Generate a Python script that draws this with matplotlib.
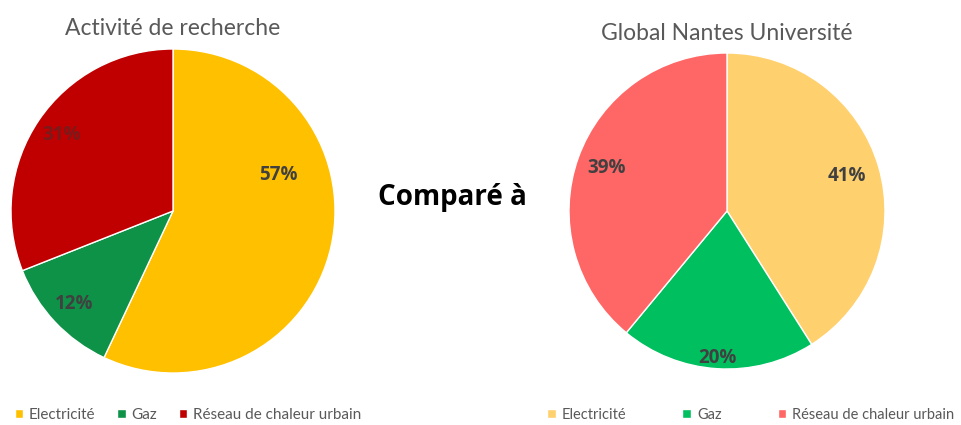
import matplotlib.pyplot as plt

# données
categories = ['Electricité', 'Gaz', 'Réseau de chaleur urbain']
recherche = [57, 12, 31]
global_nu = [41, 20, 39]

couleurs_recherche = ['#FFC000', '#0E9247', '#C00000']
couleurs_global = ['#FFD06E', '#00BF5F', '#FF6666']

W, H = 962, 425
fig = plt.figure(figsize=(W / 100, H / 100), dpi=100)


def axes_px(cx, cy, r):
    return fig.add_axes([(cx - r) / W, (H - cy - r) / H, 2 * r / W, 2 * r / H])


def pie(ax, vals, cols, dists):
    wedges, _, autotexts = ax.pie(
        vals, colors=cols, startangle=90, counterclock=False,
        autopct='%1.0f%%', pctdistance=0.8,
        wedgeprops=dict(edgecolor='white', linewidth=1),
        textprops=dict(color='#404040', fontsize=13.5, fontweight='bold',
                       family='Open Sans'))
    for t, d in zip(autotexts, dists):
        x, y = t.get_position()
        k = d / 0.8
        t.set_position((x * k, y * k))
    ax.set_xlim(-1, 1)
    ax.set_ylim(-1, 1)
    return wedges, autotexts


ax1 = axes_px(173, 211, 162)
w1, t1 = pie(ax1, recherche, couleurs_recherche, [0.68, 0.84, 0.83])
# Excel remonte l'étiquette 57%
t1[0].set_position((0.65, 0.22))
t1[2].set_color('#7a1a1a')
ax1.set_title('Activité de recherche', fontsize=16.5, color='#595959',
              family='Lato', pad=10)

ax2 = axes_px(727, 211, 158)
w2, t2 = pie(ax2, global_nu, couleurs_global, [0.79, 0.93, 0.81])
ax2.set_title('Global Nantes Université', fontsize=16.5, color='#595959',
              family='Lato', pad=9)

fig.text(452 / W, 1 - 198 / H, 'Comparé à', ha='center', va='center',
         fontsize=20, fontweight='bold', family='Open Sans', color='black')

fig.legend(w1, categories, loc='center left', bbox_to_anchor=(15 / W, 1 - 415 / H),
           ncol=3, frameon=False, borderaxespad=0, borderpad=0,
           handlelength=0.55, handleheight=0.55, handletextpad=0.35,
           columnspacing=1.45, prop=dict(family='Lato', size=11),
           labelcolor='#595959')
fig.legend(w2, categories, loc='center left', bbox_to_anchor=(547 / W, 1 - 415 / H),
           ncol=3, frameon=False, borderaxespad=0, borderpad=0,
           handlelength=0.6, handleheight=0.6, handletextpad=0.4,
           columnspacing=3.85, prop=dict(family='Lato', size=10.5),
           labelcolor='#595959')

fig.savefig('out.png', dpi=100)
